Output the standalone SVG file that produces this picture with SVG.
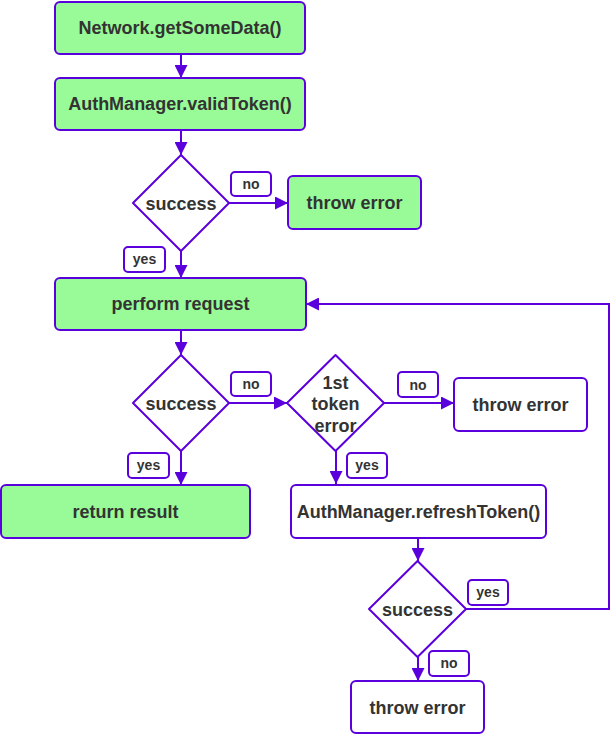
<svg xmlns="http://www.w3.org/2000/svg" width="611" height="735" viewBox="0 0 611 735">
<defs>
<marker id="arr" viewBox="0 0 13 13" refX="13" refY="6.5" markerWidth="13" markerHeight="13" markerUnits="userSpaceOnUse" orient="auto">
<path d="M0,0 L13,6.5 L0,13 Z" fill="#5a00dc"/>
</marker>
<style>
.g{fill:#98fb98;stroke:#5a00dc;stroke-width:2}
.w{fill:#ffffff;stroke:#5a00dc;stroke-width:2}
.d{fill:#ffffff;stroke:#5a00dc;stroke-width:2;stroke-linejoin:round}
.t{font-family:"Liberation Sans",Arial,sans-serif;font-weight:bold;font-size:18px;fill:#333333;text-anchor:middle}
.l{font-family:"Liberation Sans",Arial,sans-serif;font-weight:bold;font-size:14px;fill:#333333;text-anchor:middle}
.c{fill:none;stroke:#5a00dc;stroke-width:2}
</style>
</defs>
<rect width="611" height="735" fill="#ffffff"/>
<g id="connectors">
<line class="c" x1="181" y1="54" x2="181" y2="78" marker-end="url(#arr)"/>
<line class="c" x1="181" y1="130" x2="181" y2="155" marker-end="url(#arr)"/>
<line class="c" x1="229" y1="203" x2="288" y2="203" marker-end="url(#arr)"/>
<line class="c" x1="181" y1="251" x2="181" y2="278" marker-end="url(#arr)"/>
<line class="c" x1="181" y1="330" x2="181" y2="355" marker-end="url(#arr)"/>
<line class="c" x1="229" y1="403" x2="287" y2="403" marker-end="url(#arr)"/>
<line class="c" x1="384" y1="403" x2="454" y2="403" marker-end="url(#arr)"/>
<line class="c" x1="181" y1="451" x2="181" y2="485" marker-end="url(#arr)"/>
<line class="c" x1="336" y1="451" x2="336" y2="484" marker-end="url(#arr)"/>
<line class="c" x1="418" y1="538" x2="418" y2="561" marker-end="url(#arr)"/>
<line class="c" x1="418" y1="657" x2="418" y2="681" marker-end="url(#arr)"/>
<polyline class="c" points="466,609 609,609 609,304 306,304" marker-end="url(#arr)"/>
<rect class="w" x="231" y="172" width="40" height="24" rx="4"/>
<text class="l" x="251" y="189">no</text>
<rect class="w" x="124" y="247" width="41" height="25" rx="4"/>
<text class="l" x="144.5" y="264">yes</text>
<rect class="w" x="231" y="372" width="40" height="24" rx="4"/>
<text class="l" x="251" y="389">no</text>
<rect class="w" x="398" y="372" width="40" height="25" rx="4"/>
<text class="l" x="418" y="389.5">no</text>
<rect class="w" x="128" y="453" width="41" height="25" rx="4"/>
<text class="l" x="148.5" y="470">yes</text>
<rect class="w" x="347" y="453" width="40" height="25" rx="4"/>
<text class="l" x="367" y="470">yes</text>
<rect class="w" x="468" y="580" width="40" height="25" rx="4"/>
<text class="l" x="488" y="597">yes</text>
<rect class="w" x="429" y="651" width="40" height="25" rx="4"/>
<text class="l" x="449" y="668">no</text>
</g>
<g id="n1">
<rect class="g" x="55" y="2" width="250" height="52" rx="5"/>
<text class="t" x="180" y="34">Network.getSomeData()</text>
</g>
<g id="n2">
<rect class="g" x="55" y="78" width="250" height="52" rx="5"/>
<text class="t" x="180" y="110">AuthManager.validToken()</text>
</g>
<g id="d1">
<path class="d" d="M181,155 L229,203 L181,251 L133,203 Z"/>
<text class="t" x="181" y="209.5">success</text>
</g>
<g id="e1">
<rect class="g" x="288" y="176" width="133" height="53" rx="5"/>
<text class="t" x="354.5" y="209">throw error</text>
</g>
<g id="n3">
<rect class="g" x="55" y="278" width="251" height="52" rx="5"/>
<text class="t" x="180.5" y="310">perform request</text>
</g>
<g id="d2">
<path class="d" d="M181,355 L229,403 L181,451 L133,403 Z"/>
<text class="t" x="181" y="409.5">success</text>
</g>
<g id="d3">
<path class="d" d="M335.5,355 L384,403 L335.5,451 L287,403 Z"/>
<text class="t" x="335.5" y="388.5">1st</text>
<text class="t" x="335.5" y="410">token</text>
<text class="t" x="335.5" y="432">error</text>
</g>
<g id="e2">
<rect class="w" x="454" y="378" width="133" height="53" rx="5"/>
<text class="t" x="520.5" y="411">throw error</text>
</g>
<g id="n4">
<rect class="g" x="1" y="485" width="249" height="53" rx="5"/>
<text class="t" x="125.5" y="518">return result</text>
</g>
<g id="n5">
<rect class="w" x="291" y="485" width="255" height="53" rx="5"/>
<text class="t" x="418.5" y="518">AuthManager.refreshToken()</text>
</g>
<g id="d4">
<path class="d" d="M417.5,561 L466,609 L417.5,657 L369,609 Z"/>
<text class="t" x="417.5" y="615.5">success</text>
</g>
<g id="e3">
<rect class="w" x="351" y="681" width="133" height="52" rx="5"/>
<text class="t" x="417.5" y="714">throw error</text>
</g>
</svg>
